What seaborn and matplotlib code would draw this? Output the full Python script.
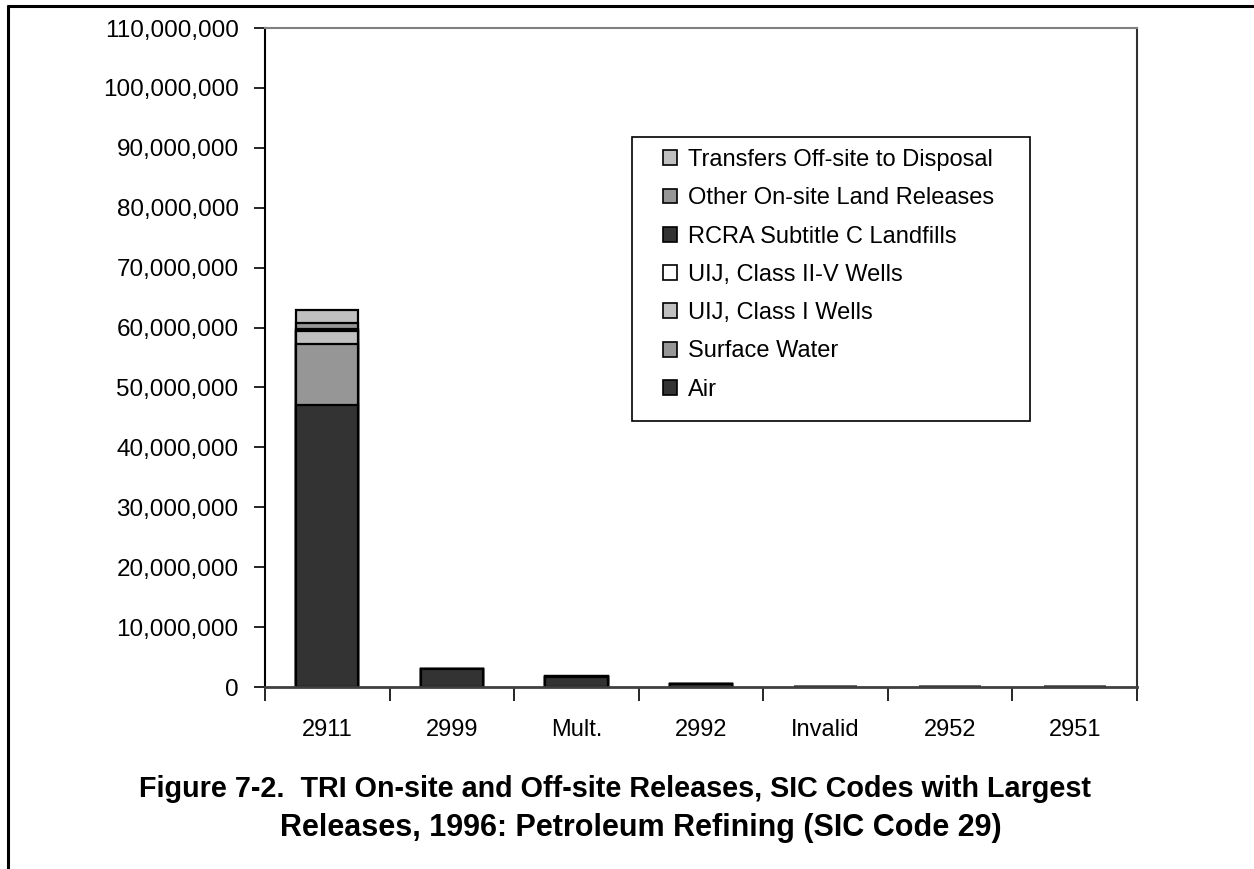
import matplotlib
matplotlib.use("Agg")
import matplotlib.pyplot as plt
from matplotlib.patches import Patch, Rectangle
from matplotlib.lines import Line2D
from matplotlib.ticker import FuncFormatter, FixedLocator
import seaborn as sns
import numpy as np
import pandas as pd

# ---- data ----
categories = ["2911", "2999", "Mult.", "2992", "Invalid", "2952", "2951"]
series_names = ["Air", "Surface Water", "UIJ, Class I Wells", "UIJ, Class II-V Wells",
                "RCRA Subtitle C Landfills", "Other On-site Land Releases",
                "Transfers Off-site to Disposal"]
air = [47000000, 3000000, 1700000, 550000, 20000, 10000, 5000]
surface_water = [10300000, 0, 0, 0, 0, 0, 0]
uij_class1 = [2200000, 0, 0, 0, 0, 0, 0]
uij_class2_5 = [0, 0, 0, 0, 0, 0, 0]
rcra = [300000, 0, 0, 0, 0, 0, 0]
other_land = [1000000, 0, 100000, 0, 0, 0, 0]
transfers = [2200000, 0, 100000, 0, 0, 0, 0]
yticks = list(range(0, 110000001, 10000000))
title_lines = ["Figure 7-2.  TRI On-site and Off-site Releases, SIC Codes with Largest",
               "Releases, 1996: Petroleum Refining (SIC Code 29)"]

series_values = [air, surface_water, uij_class1, uij_class2_5, rcra, other_land, transfers]
colors = ["#333333", "#969696", "#C0C0C0", "#FFFFFF", "#333333", "#969696", "#C0C0C0"]

sns.set_theme(style="white")
plt.rcParams["font.family"] = ["Liberation Sans", "DejaVu Sans"]
plt.rcParams["text.color"] = "black"
plt.rcParams["xtick.color"] = "black"
plt.rcParams["ytick.color"] = "black"

fig = plt.figure(figsize=(12.54, 8.69), dpi=100)
ax = fig.add_axes([265/1254, 1-687/869, (1137-265)/1254, (687-28)/869])

cum = np.cumsum(np.array(series_values, dtype=float), axis=0)
df = pd.DataFrame({"category": categories})
for i in range(len(series_names) - 1, -1, -1):
    df["v"] = cum[i]
    sns.barplot(data=df, x="category", y="v", order=categories, color=colors[i],
                saturation=1, edgecolor="black", linewidth=1.6, width=0.5,
                errorbar=None, ax=ax)

ax.set_ylim(0, 110000000)
ax.set_xlim(-0.5, len(categories) - 0.5)
ax.set_xlabel("")
ax.set_ylabel("")
ax.yaxis.set_major_locator(FixedLocator(yticks))
ax.yaxis.set_major_formatter(FuncFormatter(lambda v, p: f"{v:,.0f}"))
ax.tick_params(axis="y", direction="out", length=8, width=1.2, color="black",
               labelsize=17.5, pad=11, left=True, labelcolor="black")
ax.set_xticks(range(len(categories)))
ax.set_xticklabels(categories)
ax.set_xticks(np.arange(-0.5, len(categories), 1.0), minor=True)
ax.tick_params(axis="x", which="major", length=0, labelsize=17, pad=23, labelcolor="black")
ax.tick_params(axis="x", which="minor", direction="out", length=10, width=1.2,
               color="black", bottom=True)

ax.spines["left"].set_color("black")
ax.spines["left"].set_linewidth(1.5)
ax.spines["bottom"].set_color("#404040")
ax.spines["bottom"].set_linewidth(2)
ax.spines["top"].set_color("#808080")
ax.spines["top"].set_linewidth(1.5)
ax.spines["right"].set_color("#303030")
ax.spines["right"].set_linewidth(1.5)

# legend frame
x0 = (632-265)/872
x1 = (1030-265)/872
y_top = (687-137)/659
y_bot = (687-421)/659
ax.add_patch(Rectangle((x0, y_bot), x1-x0, y_top-y_bot, transform=ax.transAxes,
                       facecolor="white", edgecolor="black", linewidth=1.2, zorder=5))

handles = [Patch(facecolor=colors[i], edgecolor="black", linewidth=1.2, label=series_names[i])
           for i in range(len(series_names) - 1, -1, -1)]
leg = ax.legend(handles=handles, loc="upper left", bbox_to_anchor=((663-265)/872, (687-149)/659),
                borderaxespad=0, borderpad=0, fontsize=17, frameon=False,
                handlelength=0.59, handleheight=0.59, handletextpad=0.47,
                labelspacing=0.69)
leg.set_zorder(6)

fig.text(615/1254, 1-797/869, title_lines[0], ha="center", va="baseline",
         fontsize=20.7, fontweight="bold")
fig.text(641/1254, 1-836/869, title_lines[1], ha="center", va="baseline",
         fontsize=22, fontweight="bold")

fig.add_artist(Line2D([8/1254, 1.0], [1-6/869, 1-6/869], color="black", linewidth=2.2,
                      transform=fig.transFigure))
fig.add_artist(Line2D([8/1254, 8/1254], [0.0, 1-6/869], color="black", linewidth=2.2,
                      transform=fig.transFigure))

fig.savefig("out.png", dpi=100)
